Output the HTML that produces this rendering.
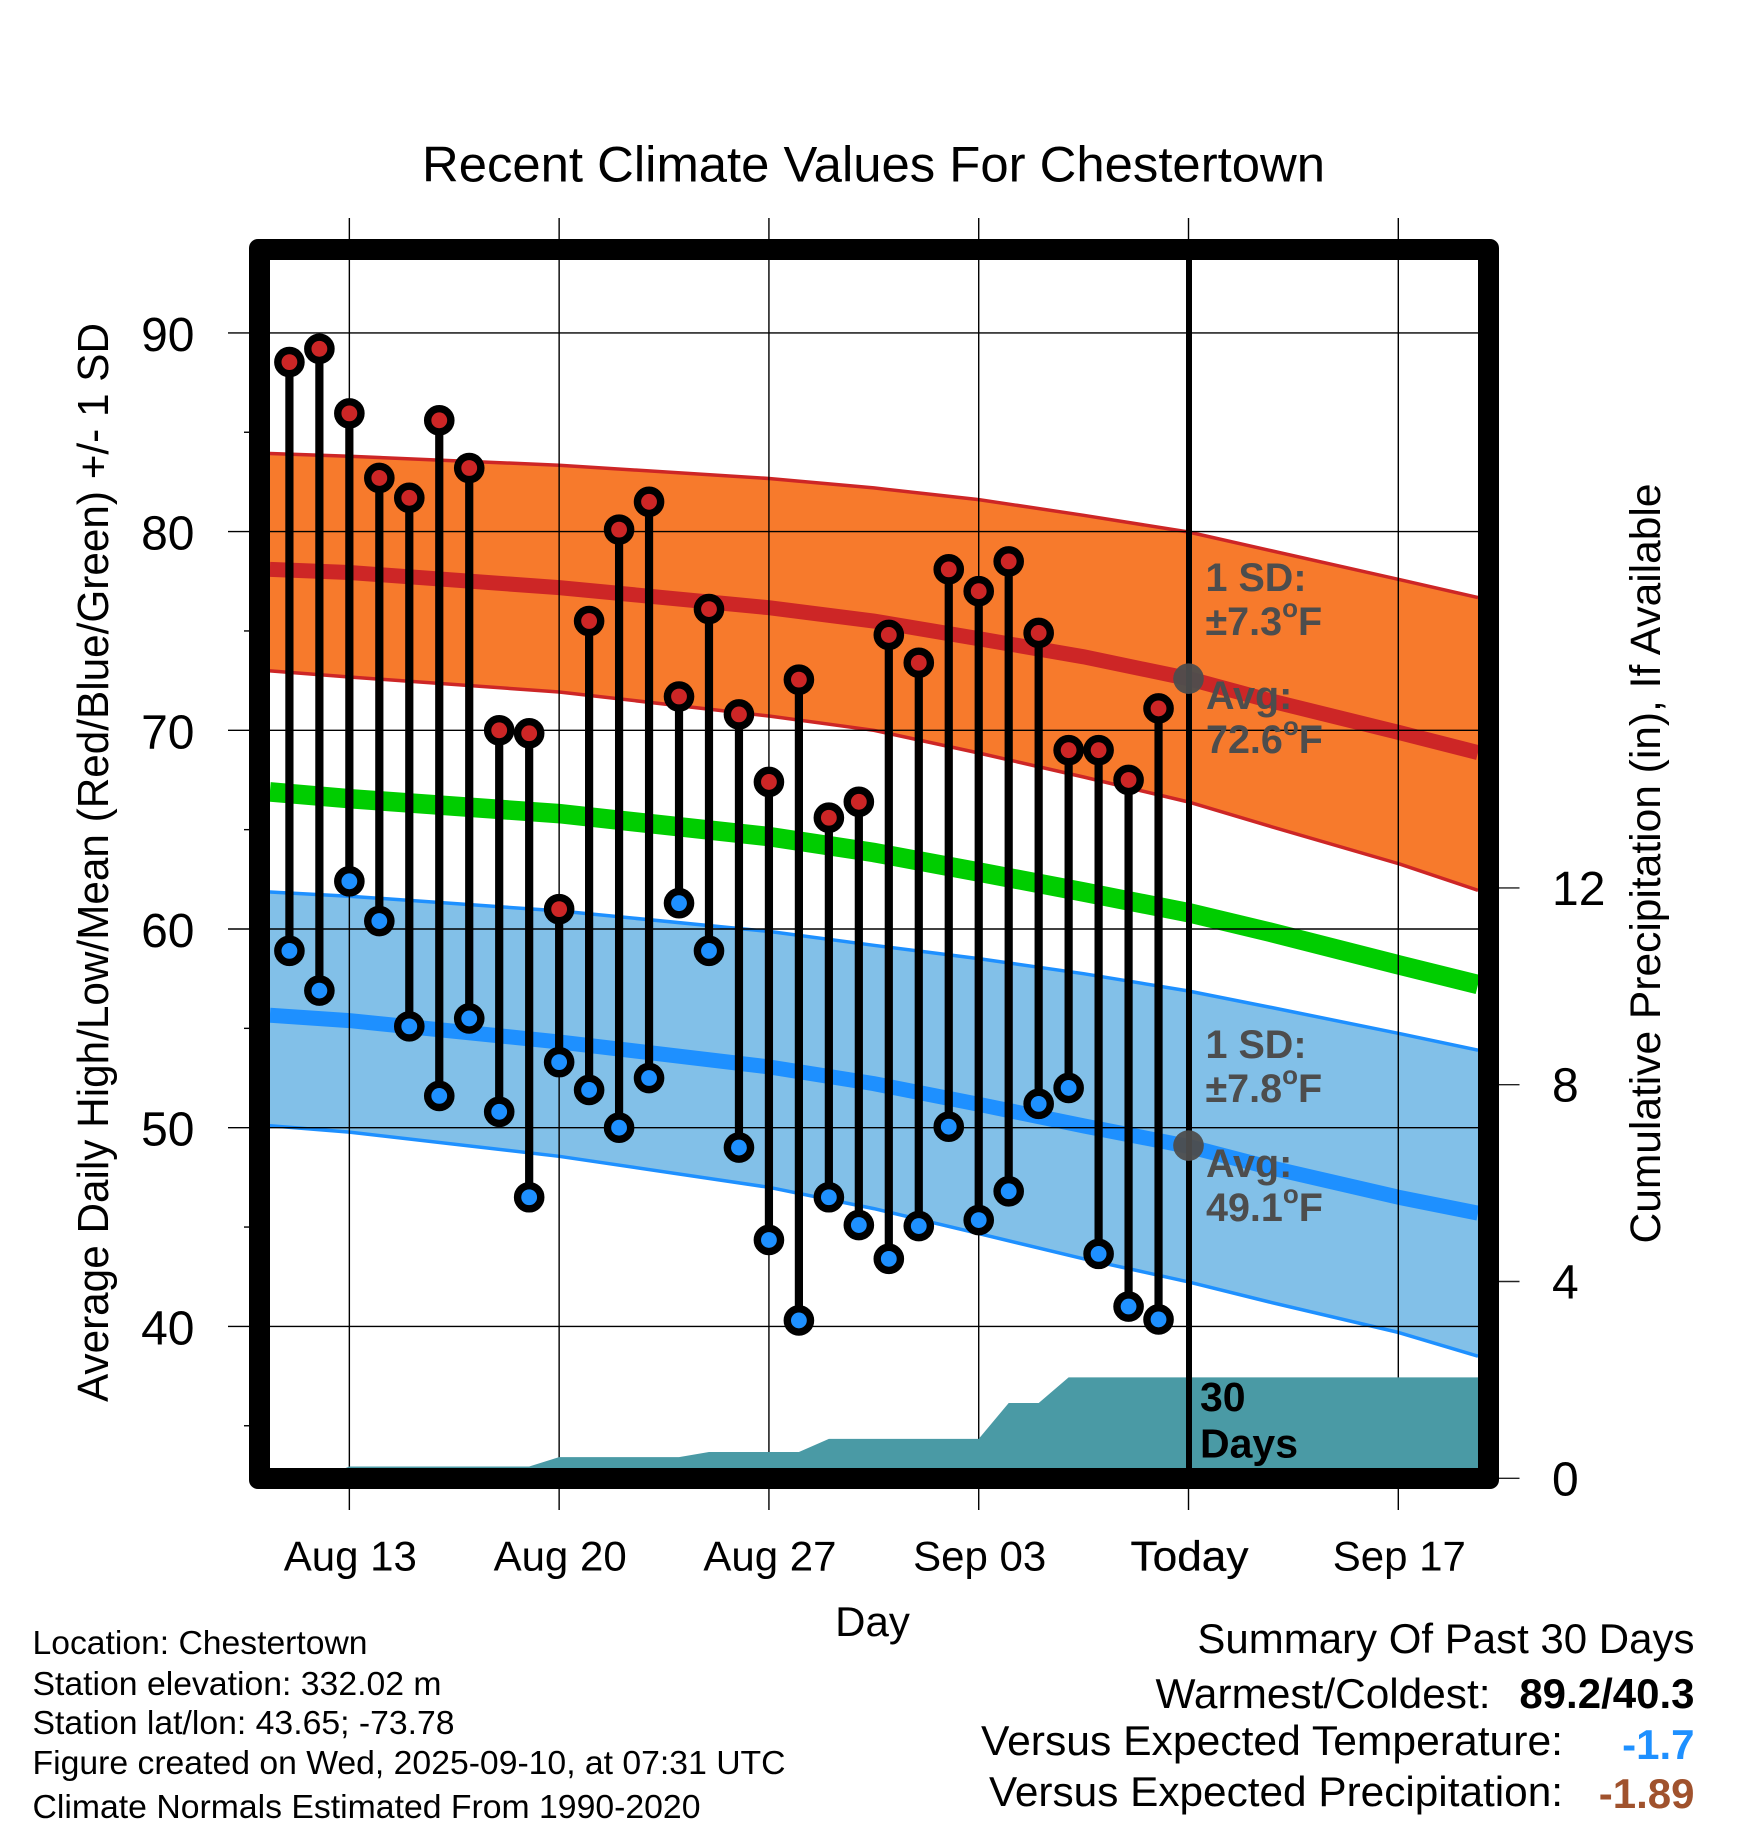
<!DOCTYPE html>
<html>
<head>
<meta charset="utf-8">
<title>Recent Climate Values For Chestertown</title>
<style>
html,body{margin:0;padding:0;background:#fff;}
svg{display:block;}
text{font-family:"Liberation Sans",Arial,sans-serif;fill:#000;}
.anno{font-weight:bold;font-size:39.5px;fill:#4d4d4d;}
.info{font-size:33px;}
.sum{font-size:42px;}
.axt{font-size:42px;}
</style>
</head>
<body>
<svg id="chart" xmlns="http://www.w3.org/2000/svg" width="1748" height="1828" viewBox="0 0 1748 1828">
  <rect x="0" y="0" width="1748" height="1828" fill="#fff"/>
  <defs>
    <clipPath id="plot-clip"><rect x="270" y="260" width="1208" height="1208"/></clipPath>
  </defs>
  <text x="873.5" y="181.5" font-size="50" text-anchor="middle" textLength="903" lengthAdjust="spacingAndGlyphs">Recent Climate Values For Chestertown</text>

  <g id="layer-bands" clip-path="url(#plot-clip)"></g>
  <g id="layer-grid"></g>
  <g id="layer-precip" clip-path="url(#plot-clip)"></g>
  <g id="layer-marks"></g>
  <line x1="1189" x2="1189" y1="260" y2="1468" stroke="#000" stroke-width="6"/>
  <g id="layer-today"></g>

  <text class="anno" x="1205.5" y="591">1 SD:</text>
  <text class="anno" x="1205.5" y="635">±7.3<tspan font-size="26" dy="-18">o</tspan><tspan dy="18">F</tspan></text>
  <text class="anno" x="1206" y="709">Avg:</text>
  <text class="anno" x="1206" y="753">72.6<tspan font-size="26" dy="-18">o</tspan><tspan dy="18">F</tspan></text>
  <text class="anno" x="1205.5" y="1058">1 SD:</text>
  <text class="anno" x="1205.5" y="1102">±7.8<tspan font-size="26" dy="-18">o</tspan><tspan dy="18">F</tspan></text>
  <text class="anno" x="1206" y="1177">Avg:</text>
  <text class="anno" x="1206" y="1221">49.1<tspan font-size="26" dy="-18">o</tspan><tspan dy="18">F</tspan></text>
  <text x="1200" y="1411" font-size="41" font-weight="bold">30</text>
  <text x="1200" y="1457.5" font-size="41" font-weight="bold">Days</text>

  <path fill="#000" fill-rule="evenodd" d="M258 239H1490a9 9 0 0 1 9 9V1480a9 9 0 0 1 -9 9H258a9 9 0 0 1 -9 -9V248a9 9 0 0 1 9 -9Z M270 260V1468H1478V260Z"/>
  <g id="layer-ticks"></g>

  <text font-size="43.5" transform="translate(108,862.5) rotate(-90)" text-anchor="middle" textLength="1079" lengthAdjust="spacingAndGlyphs">Average Daily High/Low/Mean (Red/Blue/Green) +/- 1 SD</text>
  <text font-size="43" transform="translate(1660,863.5) rotate(-90)" text-anchor="middle" textLength="760" lengthAdjust="spacingAndGlyphs">Cumulative Precipitation (in), If Available</text>
  <text class="axt" x="872.5" y="1636" text-anchor="middle">Day</text>

  <text class="info" x="32.5" y="1654" textLength="335" lengthAdjust="spacingAndGlyphs">Location: Chestertown</text>
  <text class="info" x="32.5" y="1695" textLength="409" lengthAdjust="spacingAndGlyphs">Station elevation: 332.02 m</text>
  <text class="info" x="32.5" y="1734" textLength="422" lengthAdjust="spacingAndGlyphs">Station lat/lon: 43.65; -73.78</text>
  <text class="info" x="32.5" y="1774" textLength="753" lengthAdjust="spacingAndGlyphs">Figure created on Wed, 2025-09-10, at 07:31 UTC</text>
  <text class="info" x="32.5" y="1818" textLength="668" lengthAdjust="spacingAndGlyphs">Climate Normals Estimated From 1990-2020</text>

  <text class="sum" x="1694.5" y="1653" text-anchor="end">Summary Of Past 30 Days</text>
  <text class="sum" x="1490.5" y="1708" text-anchor="end" textLength="335" lengthAdjust="spacingAndGlyphs">Warmest/Coldest:</text>
  <text class="sum" x="1694.5" y="1708" text-anchor="end" font-weight="bold" font-size="40">89.2/40.3</text>
  <text class="sum" x="1563" y="1755" text-anchor="end" textLength="582" lengthAdjust="spacingAndGlyphs">Versus Expected Temperature:</text>
  <text class="sum" x="1694.5" y="1759" text-anchor="end" font-weight="bold" font-size="40" style="fill:#1e90ff">-1.7</text>
  <text class="sum" x="1563" y="1806" text-anchor="end" textLength="574" lengthAdjust="spacingAndGlyphs">Versus Expected Precipitation:</text>
  <text class="sum" x="1694.5" y="1808" text-anchor="end" font-weight="bold" font-size="40" style="fill:#a0522d">-1.89</text>
</svg>
<script>
// Daily observations, Aug 11 through Sep 9 (day 0 = Aug 13)
var firstDay = -2;
var dailyHighs = [88.53,89.2,85.95,82.7,81.7,85.6,83.2,70.0,69.85,61.0,75.5,80.1,81.5,71.7,76.1,70.8,67.4,72.55,65.6,66.4,74.8,73.4,78.1,77.0,78.5,74.9,69.0,69.0,67.5,71.1];
var dailyLows = [58.9,56.9,62.4,60.4,55.1,51.6,55.5,50.8,46.5,53.3,51.9,50.0,52.5,61.3,58.9,49.0,44.35,40.3,46.5,45.1,43.4,45.05,50.05,45.35,46.8,51.2,52.0,43.65,41.0,40.35];
// Climate normals
var normalDays = [-2.65,0,7,14,17.5,21,24.5,28,30.7,35,37.66];
var highUpper = [83.93,83.79,83.34,82.67,82.2,81.61,80.82,79.98,79.06,77.6,76.68];
var highAvg = [78.10,77.94,77.18,76.17,75.5,74.61,73.7,72.6,71.5,69.9,68.88];
var highLower = [72.99,72.68,71.93,70.72,70.0,68.86,67.65,66.39,65.18,63.29,61.95];
var meanAvg = [66.9,66.56,65.81,64.65,63.85,62.87,61.86,60.82,59.85,58.2,57.2];
var lowUpper = [61.86,61.65,60.91,59.88,59.18,58.51,57.75,56.88,56.07,54.75,53.9];
var lowAvg = [55.66,55.39,54.32,53.06,52.22,51.18,50.09,49.06,48.0,46.5,45.7];
var lowLower = [50.1,49.78,48.56,47.0,45.93,44.67,43.4,42.24,41.23,39.7,38.5];
// Cumulative precipitation
var precipDays = [-1,0,6,7,11,12,15,16,21,22,23,24,37.66];
var precipTotals = [0,0.24,0.24,0.43,0.43,0.535,0.535,0.8,0.8,1.53,1.53,2.05,2.05];
// Axes
var xTickDays = [0,7,14,21,28,35];
var xTickLabels = ['Aug 13','Aug 20','Aug 27','Sep 03','Today','Sep 17'];
var yMajorTicks = [40,50,60,70,80,90];
var yMinorTicks = [35,45,55,65,75,85];
var rightTicks = [0,4,8,12];
var todayDay = 28;
var todayHighAvg = 72.6;
var todayLowAvg = 49.1;

var NS = 'http://www.w3.org/2000/svg';
function xScale(d){ return 349.35 + d * 29.97; }
function yScale(t){ return 531.6 + (80 - t) * 19.87; }
function pScale(p){ return 1478.3 - p * 49.2; }
function mk(tag, attrs, parent){
  var el = document.createElementNS(NS, tag);
  for (var k in attrs) el.setAttribute(k, attrs[k]);
  parent.appendChild(el);
  return el;
}
function pts(xs, ys){
  return xs.map(function(d,i){ return xScale(d).toFixed(1) + ',' + yScale(ys[i]).toFixed(1); });
}
var bands = document.getElementById('layer-bands');
var grid = document.getElementById('layer-grid');
var precip = document.getElementById('layer-precip');
var marks = document.getElementById('layer-marks');
var todayLayer = document.getElementById('layer-today');
var ticks = document.getElementById('layer-ticks');

var bandHigh = mk('polygon', {points: pts(normalDays, highUpper).concat(pts(normalDays, highLower).reverse()).join(' '), fill: '#f77a2c'}, bands);


var bandLow = mk('polygon', {points: pts(normalDays, lowUpper).concat(pts(normalDays, lowLower).reverse()).join(' '), fill: '#82c0e8'}, bands);



var hu = mk('polyline', {points: pts(normalDays, highUpper).join(' '), fill: 'none', stroke: '#cd2626', 'stroke-width': 3.5}, bands);


var hl = mk('polyline', {points: pts(normalDays, highLower).join(' '), fill: 'none', stroke: '#cd2626', 'stroke-width': 3.5}, bands);


var ha = mk('polyline', {points: pts(normalDays, highAvg).join(' '), fill: 'none', stroke: '#cd2626', 'stroke-width': 15}, bands);


var ma = mk('polyline', {points: pts(normalDays, meanAvg).join(' '), fill: 'none', stroke: '#00cd00', 'stroke-width': 19.5}, bands);


var lu = mk('polyline', {points: pts(normalDays, lowUpper).join(' '), fill: 'none', stroke: '#1e90ff', 'stroke-width': 3.5}, bands);


var ll = mk('polyline', {points: pts(normalDays, lowLower).join(' '), fill: 'none', stroke: '#1e90ff', 'stroke-width': 3.5}, bands);


var la = mk('polyline', {points: pts(normalDays, lowAvg).join(' '), fill: 'none', stroke: '#1e90ff', 'stroke-width': 15}, bands);



// gridlines, ticks and tick labels
yMajorTicks.forEach(function(t){
  var gl = mk('line', {x1: 228, x2: 1478, y1: yScale(t), y2: yScale(t), stroke: '#000', 'stroke-width': 1.4}, grid);
  
  
  var lb = mk('text', {x: 194.5, y: yScale(t) + 18, 'font-size': 48, 'text-anchor': 'end'}, ticks);
  lb.textContent = String(t);
  
  
});
yMinorTicks.forEach(function(t){
  var mt = mk('line', {x1: 244, x2: 250, y1: yScale(t), y2: yScale(t), stroke: '#000', 'stroke-width': 1.4}, ticks);
  
  
});
xTickDays.forEach(function(d, i){
  var gl = mk('line', {x1: xScale(d), x2: xScale(d), y1: 218, y2: 1510, stroke: '#000', 'stroke-width': 1.4}, grid);
  
  
  var lb = mk('text', {x: xScale(d) + 1, y: 1570.5, 'font-size': 42, 'text-anchor': 'middle'}, ticks);
  lb.textContent = xTickLabels[i];
  if (d === todayDay) {
    lb.setAttribute('stroke', '#000');
    lb.setAttribute('stroke-width', '0.3');
    lb.setAttribute('textLength', '118');
    lb.setAttribute('lengthAdjust', 'spacingAndGlyphs');
  }
  
  
});
rightTicks.forEach(function(p){
  var rt = mk('line', {x1: 1499, x2: 1519.5, y1: pScale(p), y2: pScale(p), stroke: '#222', 'stroke-width': 1.4}, ticks);
  
  
  var lb = mk('text', {x: 1552, y: pScale(p) + 17, 'font-size': 48}, ticks);
  lb.textContent = String(p);
  
  
});

// precipitation area
var precipPts = precipDays.map(function(d,i){ return xScale(d).toFixed(1) + ',' + pScale(precipTotals[i]).toFixed(1); });
precipPts.push(xScale(precipDays[precipDays.length-1]).toFixed(1) + ',' + pScale(0));
precipPts.push(xScale(precipDays[0]).toFixed(1) + ',' + pScale(0));
var area = mk('polygon', {points: precipPts.join(' '), fill: '#4a9aa5'}, precip);



// stems first, then markers
dailyHighs.forEach(function(h, i){
  var x = xScale(firstDay + i);
  var s = mk('line', {x1: x, x2: x, y1: yScale(h), y2: yScale(dailyLows[i]), stroke: '#000', 'stroke-width': 8.2}, marks);
  
  
});
dailyHighs.forEach(function(h, i){
  var x = xScale(firstDay + i);
  var lo = mk('circle', {cx: x, cy: yScale(dailyLows[i]), r: 11.6, fill: '#1e90ff', stroke: '#000', 'stroke-width': 7.4}, marks);
  
  
  var hi = mk('circle', {cx: x, cy: yScale(h), r: 11.6, fill: '#cd2626', stroke: '#000', 'stroke-width': 7.4}, marks);
  
  
});

var th = mk('circle', {cx: xScale(todayDay), cy: yScale(todayHighAvg), r: 15.3, fill: '#4d4d4d', 'fill-opacity': 0.95}, todayLayer);


var tl = mk('circle', {cx: xScale(todayDay), cy: yScale(todayLowAvg), r: 15.3, fill: '#4d4d4d', 'fill-opacity': 0.95}, todayLayer);


</script>
</body>
</html>
